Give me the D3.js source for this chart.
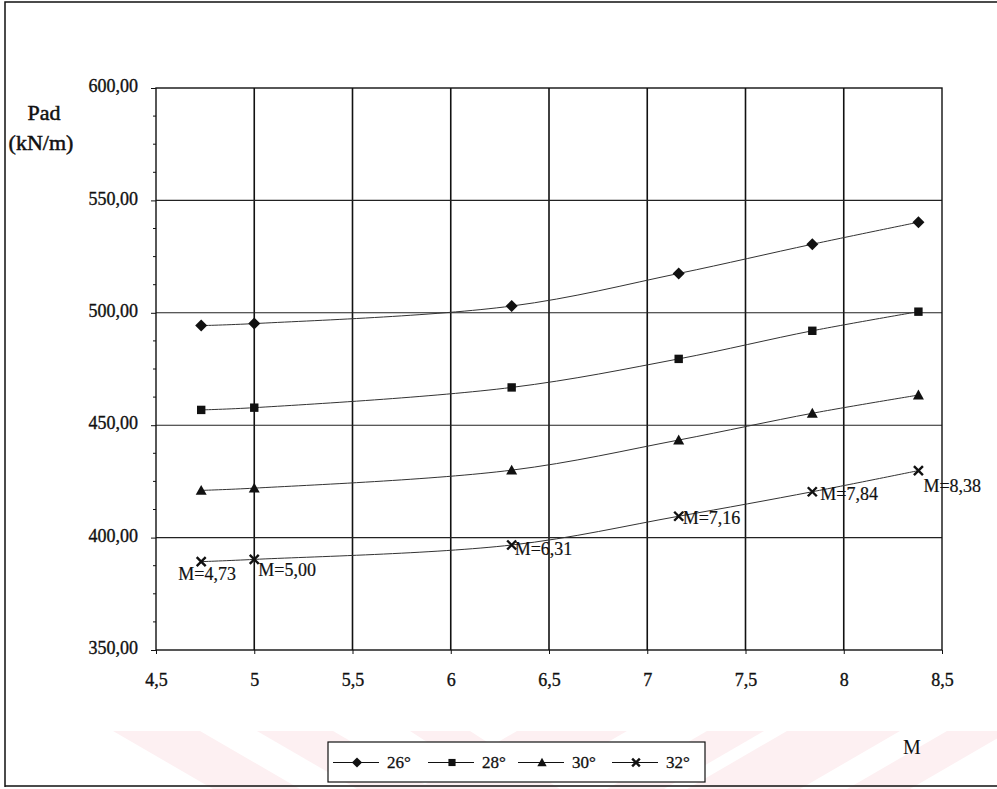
<!DOCTYPE html>
<html>
<head>
<meta charset="utf-8">
<script src="https://cdn.jsdelivr.net/npm/d3@7"></script>
<style>
  html, body { margin: 0; padding: 0; background: #fff; }
  svg { display: block; }
  text { font-family: "Liberation Serif", "Times New Roman", serif; fill: #111; }
</style>
</head>
<body>
<svg id="chart" width="997" height="789"></svg>
<script>
// ---- data ----
const mValues = [4.73, 5.00, 6.31, 7.16, 7.84, 8.38];
const s26 = [494.3, 495.2, 503.0, 517.5, 530.5, 540.3];
const s28 = [456.8, 457.8, 466.8, 479.5, 492.0, 500.5];
const s30 = [421.0, 422.0, 430.0, 443.4, 455.3, 463.4];
const s32 = [389.3, 390.3, 396.7, 409.5, 420.4, 429.8];
const seriesNames = ["26°", "28°", "30°", "32°"];
const pointLabels = ["M=4,73", "M=5,00", "M=6,31", "M=7,16", "M=7,84", "M=8,38"];
const xTicks = [4.5, 5, 5.5, 6, 6.5, 7, 7.5, 8, 8.5];
const yTicks = [350, 400, 450, 500, 550, 600];

const seriesValues = [s26, s28, s30, s32];
const markers = ["diamond", "square", "triangle", "cross"];

const svg = d3.select("#chart");
const SERIF = "'Liberation Serif', 'Times New Roman', serif";

// ---- faint watermark band ----
const wm = svg.append("g").attr("fill", "#fdf0f2");
const stripes = [
  [113, 200, 100], [257, 333, 100], [410, 470, 90],
  [517, 627, -100], [707, 764, -100], [787, 900, -100], [947, 1010, -100]
];
stripes.forEach(([a, b, s]) => {
  wm.append("polygon").attr("points",
    `${a},731 ${b},731 ${b + s},789 ${a + s},789`);
});

// ---- outer frame ----
svg.append("path")
  .attr("d", "M5,787 L5,2 L997,2 M5,786 L997,786")
  .attr("fill", "none").attr("stroke", "#111").attr("stroke-width", 1.5);

const x0 = 156, x1 = 942, y0 = 650, y1 = 88;
const x = d3.scaleLinear().domain([4.5, 8.5]).range([x0, x1]);
const y = d3.scaleLinear().domain([350, 600]).range([y0, y1]);

// gridlines
const grid = svg.append("g");
grid.selectAll("line.v").data(xTicks.slice(1, -1)).join("line")
  .attr("x1", d => x(d)).attr("x2", d => x(d))
  .attr("y1", y1).attr("y2", y0)
  .attr("stroke", "#111").attr("stroke-width", 1.6);
grid.selectAll("line.h").data(yTicks.slice(1, -1)).join("line")
  .attr("x1", x0).attr("x2", x1)
  .attr("y1", d => y(d)).attr("y2", d => y(d))
  .attr("stroke", "#222").attr("stroke-width", 1.1);

// plot border
svg.append("rect").attr("x", x0).attr("y", y1)
  .attr("width", x1 - x0).attr("height", y0 - y1)
  .attr("fill", "none").attr("stroke", "#111").attr("stroke-width", 1.4);

// y axis
const yAxis = d3.axisLeft(y).tickValues(yTicks).tickSize(5).tickPadding(13)
  .tickFormat(d => d3.format(".2f")(d).replace(".", ","));
const gy = svg.append("g").attr("transform", `translate(${x0},0)`).call(yAxis)
  .attr("font-family", SERIF).attr("font-size", 18);
gy.select(".domain").remove();
gy.selectAll("text").attr("dy", "0.2em")
  .style("font-family", SERIF).style("font-size", "18px")
  .attr("stroke", "#111").attr("stroke-width", 0.35);
gy.selectAll("line").attr("stroke", "#111");
// minor y ticks
const minor = d3.range(350, 600.01, 12.5).filter(v => !yTicks.includes(v));
svg.append("g").selectAll("line").data(minor).join("line")
  .attr("x1", x0 - 3).attr("x2", x0)
  .attr("y1", d => y(d)).attr("y2", d => y(d))
  .attr("stroke", "#111");

// x axis
const xAxis = d3.axisBottom(x).tickValues(xTicks).tickSize(4).tickPadding(19)
  .tickFormat(d => String(d).replace(".", ","));
const gx = svg.append("g").attr("transform", `translate(0,${y0})`).call(xAxis)
  .attr("font-family", SERIF).attr("font-size", 18);
gx.select(".domain").remove();
gx.selectAll("text").style("font-family", SERIF).style("font-size", "18px")
  .attr("stroke", "#111").attr("stroke-width", 0.35);
gx.selectAll("line").attr("stroke", "#111");

// axis titles
svg.append("text").attr("x", 44).attr("y", 120).attr("text-anchor", "middle")
  .style("font-size", "22px").attr("stroke", "#111").attr("stroke-width", 0.5).text("Pad");
svg.append("text").attr("x", 41).attr("y", 150).attr("text-anchor", "middle")
  .style("font-size", "22px").attr("stroke", "#111").attr("stroke-width", 0.5).text("(kN/m)");
svg.append("text").attr("x", 912).attr("y", 754).attr("text-anchor", "middle")
  .style("font-size", "20px").text("M");

// marker drawing
function drawMarker(g, type, cx, cy, scale = 1) {
  if (type === "diamond") {
    const r = 6 * scale;
    g.append("path").attr("d", `M${cx},${cy - r}L${cx + r},${cy}L${cx},${cy + r}L${cx - r},${cy}Z`)
      .attr("fill", "#111");
  } else if (type === "square") {
    const r = 4.2 * scale;
    g.append("rect").attr("x", cx - r).attr("y", cy - r)
      .attr("width", 2 * r).attr("height", 2 * r).attr("fill", "#111");
  } else if (type === "triangle") {
    const r = 5.5 * scale;
    g.append("path").attr("d", `M${cx},${cy - r}L${cx + r},${cy + r * 0.8}L${cx - r},${cy + r * 0.8}Z`)
      .attr("fill", "#111");
  } else {
    const r = 4.5 * scale;
    g.append("path").attr("d", `M${cx - r},${cy - r}L${cx + r},${cy + r}M${cx + r},${cy - r}L${cx - r},${cy + r}`)
      .attr("stroke", "#111").attr("stroke-width", 2.4).attr("fill", "none");
  }
}

// series
const line = d3.line().x(d => x(d[0])).y(d => y(d[1])).curve(d3.curveCatmullRom.alpha(0.5));
seriesValues.forEach((vals, i) => {
  const pts = mValues.map((m, j) => [m, vals[j]]);
  svg.append("path").datum(pts).attr("d", line)
    .attr("fill", "none").attr("stroke", "#333").attr("stroke-width", 1);
  const g = svg.append("g");
  pts.forEach(p => drawMarker(g, markers[i], x(p[0]), y(p[1])));
});

// labels for 32° series
const labelOffsets = [[6, 18, "middle"], [4, 17, "start"], [3, 10, "start"],
                      [4, 8, "start"], [8, 8, "start"], [5, 21, "start"]];
mValues.forEach((m, j) => {
  const [dx, dy, anchor] = labelOffsets[j];
  svg.append("text")
    .attr("x", x(m) + dx).attr("y", y(s32[j]) + dy)
    .attr("text-anchor", anchor)
    .style("font-size", "18px").attr("stroke", "#111").attr("stroke-width", 0.2)
    .text(pointLabels[j]);
});

// legend
const leg = svg.append("g");
leg.append("rect").attr("x", 328).attr("y", 742).attr("width", 377).attr("height", 40)
  .attr("fill", "#fff").attr("stroke", "#111").attr("stroke-width", 1.2);
const legX = [333, 428, 518, 612];
seriesNames.forEach((name, i) => {
  const lx = legX[i], ly = 762.5;
  leg.append("line").attr("x1", lx).attr("x2", lx + 46).attr("y1", ly).attr("y2", ly)
    .attr("stroke", "#111").attr("stroke-width", 1.1);
  drawMarker(leg, markers[i], lx + 24, ly, 0.85);
  leg.append("text").attr("x", lx + 54).attr("y", ly + 5.5)
    .style("font-size", "17px").attr("stroke", "#111").attr("stroke-width", 0.3)
    .text(name);
});
</script>
</body>
</html>
